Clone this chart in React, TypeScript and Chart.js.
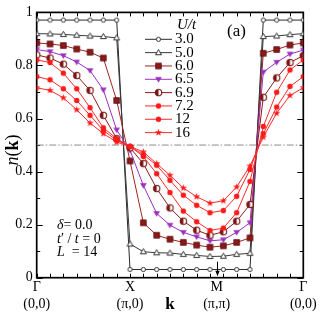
import React, { useEffect, useRef } from 'react';
import { Chart, registerables } from 'chart.js';
Chart.register(...registerables);

// k-path index (Γ=0, X=7, M=13.5, Γ=20)
const kIndex = [0, 1, 2, 3, 4, 5, 6, 7, 8, 9, 10, 11, 12, 13, 14, 15, 16, 17, 18, 19, 20];
const kTickValues = [0, 7, 13.5, 20];
const kTickLabels = [['Γ', '(0,0)'], ['X', '(π,0)'], ['M', '(π,π)'], ['Γ', '(0,0)']];
const yTickMinor = [0, 0.1, 0.2, 0.3, 0.4, 0.5, 0.6, 0.7, 0.8, 0.9, 1];
const yTickMajor = [0, 0.2, 0.4, 0.6, 0.8, 1];

const uLabels = ['3.0', '5.0', '6.0', '6.5', '6.9', '7.2', '12', '16'];

const n30 = [0.971, 0.971, 0.971, 0.971, 0.971, 0.971, 0.971, 0.031, 0.031, 0.031, 0.031, 0.031, 0.031, 0.031, 0.031, 0.031, 0.031, 0.971, 0.971, 0.971, 0.971];
const n50 = [0.92, 0.919, 0.917, 0.914, 0.911, 0.909, 0.904, 0.127, 0.098, 0.094, 0.093, 0.088, 0.084, 0.08, 0.081, 0.088, 0.092, 0.909, 0.911, 0.916, 0.92];
const n60 = [0.885, 0.881, 0.875, 0.862, 0.85, 0.828, 0.668, 0.44, 0.207, 0.16, 0.145, 0.133, 0.123, 0.115, 0.12, 0.133, 0.15, 0.846, 0.86, 0.877, 0.885];
const n65 = [0.86, 0.852, 0.837, 0.813, 0.781, 0.708, 0.557, 0.48, 0.348, 0.242, 0.198, 0.171, 0.154, 0.139, 0.143, 0.171, 0.207, 0.775, 0.812, 0.843, 0.858];
const n69 = [0.84, 0.828, 0.805, 0.762, 0.706, 0.612, 0.524, 0.49, 0.43, 0.336, 0.263, 0.213, 0.179, 0.16, 0.173, 0.213, 0.276, 0.68, 0.753, 0.811, 0.837];
const n72 = [0.821, 0.811, 0.771, 0.712, 0.641, 0.565, 0.524, 0.495, 0.457, 0.392, 0.321, 0.251, 0.211, 0.178, 0.187, 0.245, 0.363, 0.57, 0.699, 0.783, 0.821];
const n12 = [0.758, 0.746, 0.712, 0.668, 0.612, 0.555, 0.518, 0.495, 0.464, 0.424, 0.367, 0.311, 0.273, 0.245, 0.253, 0.307, 0.408, 0.543, 0.643, 0.721, 0.758];
const n16 = [0.716, 0.706, 0.678, 0.633, 0.583, 0.543, 0.511, 0.495, 0.474, 0.43, 0.386, 0.338, 0.305, 0.281, 0.29, 0.342, 0.421, 0.53, 0.62, 0.687, 0.716];
const halfFilling = 0.5;

const seriesValues = [n30, n50, n60, n65, n69, n72, n12, n16];
const lineColors = ['#2a2a2a', '#3a3a3a', '#a02424', '#9b30c0', '#8a1a1a', '#ff2a2a', '#ff2a2a', '#ff2a2a'];
const markerKinds = ['ocircle', 'otri', 'square', 'dtri', 'half', 'dot', 'dot', 'star'];
const markerColors = ['#333333', '#333333', '#8e1a1a', '#9b30c0', '#7a1414', '#ff1a1a', '#ff1a1a', '#ff1a1a'];

const SERIF = "'Liberation Serif', 'Times New Roman', serif";

function makeMarker(kind: string, color: string): HTMLCanvasElement {
  const s = 11;
  const c = document.createElement('canvas');
  c.width = s;
  c.height = s;
  const g = c.getContext('2d') as CanvasRenderingContext2D;
  const m = s / 2;
  g.lineWidth = 1;
  g.strokeStyle = color;
  g.fillStyle = color;
  if (kind === 'ocircle') {
    g.beginPath();
    g.arc(m, m, 2.1, 0, Math.PI * 2);
    g.fillStyle = '#fff';
    g.fill();
    g.stroke();
  } else if (kind === 'otri') {
    g.beginPath();
    g.moveTo(m, m - 3.1);
    g.lineTo(m + 3, m + 2.1);
    g.lineTo(m - 3, m + 2.1);
    g.closePath();
    g.fillStyle = '#fff';
    g.fill();
    g.stroke();
  } else if (kind === 'square') {
    g.fillRect(m - 2.7, m - 2.7, 5.4, 5.4);
    g.strokeStyle = '#5e0c0c';
    g.strokeRect(m - 2.7, m - 2.7, 5.4, 5.4);
  } else if (kind === 'dtri') {
    g.beginPath();
    g.moveTo(m - 3.4, m - 2.3);
    g.lineTo(m + 3.4, m - 2.3);
    g.lineTo(m, m + 3.3);
    g.closePath();
    g.fill();
  } else if (kind === 'half') {
    g.beginPath();
    g.arc(m, m, 3.2, 0, Math.PI * 2);
    g.fillStyle = '#fff';
    g.fill();
    g.beginPath();
    g.arc(m, m, 3.2, Math.PI / 2, Math.PI * 1.5);
    g.closePath();
    g.fillStyle = color;
    g.fill();
    g.beginPath();
    g.arc(m, m, 3.2, 0, Math.PI * 2);
    g.lineWidth = 1.1;
    g.stroke();
  } else if (kind === 'dot') {
    g.beginPath();
    g.arc(m, m, 2.7, 0, Math.PI * 2);
    g.fill();
  } else if (kind === 'star') {
    g.beginPath();
    for (let i = 0; i < 10; i++) {
      const r = i % 2 === 0 ? 3.8 : 1.6;
      const a = -Math.PI / 2 + (i * Math.PI) / 5;
      const px = m + r * Math.cos(a);
      const py = m + r * Math.sin(a);
      if (i === 0) g.moveTo(px, py);
      else g.lineTo(px, py);
    }
    g.closePath();
    g.fill();
  }
  return c;
}

function drawParts(ctx: CanvasRenderingContext2D, parts: [string, string][], x: number, y: number) {
  let cx = x;
  for (const [style, txt] of parts) {
    ctx.font = style;
    ctx.fillText(txt, cx, y);
    cx += ctx.measureText(txt).width;
  }
}

export default function App() {
  const ref = useRef<HTMLCanvasElement | null>(null);
  useEffect(() => {
    const canvas = ref.current;
    if (!canvas) return;
    document.body.style.margin = '0';
    const markers = markerKinds.map((k, i) => makeMarker(k, markerColors[i]));

    const datasets: any[] = seriesValues.map((vals, i) => ({
      label: 'U/t = ' + uLabels[i],
      data: kIndex.map((k, j) => ({ x: k, y: vals[j] })),
      borderColor: lineColors[i],
      backgroundColor: lineColors[i],
      borderWidth: 1,
      pointStyle: markers[i],
      pointRadius: 3,
      showLine: true,
      order: 8 - i,
    }));
    datasets.push({
      label: 'half',
      data: [
        { x: kIndex[0], y: halfFilling },
        { x: kIndex[kIndex.length - 1], y: halfFilling },
      ],
      borderColor: '#8c8c8c',
      borderWidth: 1,
      borderDash: [7, 2, 1.5, 2],
      pointRadius: 0,
      showLine: true,
      order: 20,
    });

    const decor = {
      id: 'decor',
      beforeDatasetsDraw(chart: any) {
        const { ctx, chartArea: a, scales } = chart;
        const x = scales.x;
        const y = scales.y;
        ctx.save();
        ctx.strokeStyle = '#000';
        ctx.lineWidth = 1;
        ctx.beginPath();
        for (const v of kIndex) {
          const px = Math.round(x.getPixelForValue(v)) + 0.5;
          ctx.moveTo(px, a.bottom);
          ctx.lineTo(px, a.bottom - 4);
          ctx.moveTo(px, a.top);
          ctx.lineTo(px, a.top + 4);
        }
        for (const v of yTickMinor) {
          const py = Math.round(y.getPixelForValue(v)) + 0.5;
          const len = yTickMajor.some((mv) => Math.abs(mv - v) < 1e-6) ? 6 : 3.5;
          ctx.moveTo(a.left, py);
          ctx.lineTo(a.left + len, py);
          ctx.moveTo(a.right, py);
          ctx.lineTo(a.right - len, py);
        }
        ctx.stroke();
        ctx.lineWidth = 1.7;
        ctx.strokeRect(a.left, a.top, a.right - a.left, a.bottom - a.top);
        ctx.restore();
      },
      afterDraw(chart: any) {
        const { ctx, scales } = chart;
        const x = scales.x;
        const y = scales.y;
        ctx.save();
        ctx.fillStyle = '#000';
        ctx.textBaseline = 'middle';
        // legend
        ctx.font = `italic 15px ${SERIF}`;
        ctx.fillText('U/t', 177, 25);
        for (let i = 0; i < uLabels.length; i++) {
          const ly = 39.3 + 13.33 * i;
          ctx.strokeStyle = lineColors[i];
          ctx.lineWidth = 1;
          ctx.beginPath();
          ctx.moveTo(145, ly);
          ctx.lineTo(172, ly);
          ctx.stroke();
          ctx.drawImage(markers[i], 158.5 - 5.5, ly - 5.5);
          ctx.fillStyle = '#000';
          ctx.font = `15px ${SERIF}`;
          ctx.fillText(uLabels[i], 175, ly);
        }
        // panel label
        ctx.font = `17px ${SERIF}`;
        ctx.fillText('(a)', 227, 32);
        // parameters
        drawParts(ctx, [[`italic 14px ${SERIF}`, 'δ'], [`14px ${SERIF}`, '= 0.0']], 57, 225);
        drawParts(ctx, [[`italic 14px ${SERIF}`, 't'], [`14px ${SERIF}`, '′ / '], [`italic 14px ${SERIF}`, 't'], [`14px ${SERIF}`, ' = 0']], 57, 239.3);
        drawParts(ctx, [[`italic 14px ${SERIF}`, 'L'], [`14px ${SERIF}`, '  = 14']], 57, 252.7);
        // x title
        ctx.font = `bold 17px ${SERIF}`;
        ctx.textAlign = 'center';
        ctx.fillText('k', 170, 305);
        // y title
        ctx.save();
        ctx.translate(13, 150);
        ctx.rotate(-Math.PI / 2);
        const parts: [string, string][] = [[`italic 18px ${SERIF}`, 'n'], [`18px ${SERIF}`, '('], [`bold 18px ${SERIF}`, 'k'], [`18px ${SERIF}`, ')']];
        let w = 0;
        for (const [f, t] of parts) { ctx.font = f; w += ctx.measureText(t).width; }
        ctx.textAlign = 'left';
        drawParts(ctx, parts, -w / 2, 0);
        ctx.restore();
        // arrow at M
        const mx = Math.round(x.getPixelForValue(kTickValues[2])) + 0.5;
        const yb = y.getPixelForValue(0);
        ctx.strokeStyle = '#000';
        ctx.lineWidth = 1;
        ctx.beginPath();
        ctx.moveTo(mx, yb - 16);
        ctx.lineTo(mx, yb - 4);
        ctx.stroke();
        ctx.beginPath();
        ctx.moveTo(mx - 2.2, yb - 7);
        ctx.lineTo(mx + 2.2, yb - 7);
        ctx.lineTo(mx, yb - 1.5);
        ctx.closePath();
        ctx.fillStyle = '#000';
        ctx.fill();
        ctx.restore();
      },
    };

    const chart = new Chart(canvas, {
      type: 'scatter',
      data: { datasets },
      options: {
        animation: false,
        responsive: false,
        devicePixelRatio: 1,
        events: [],
        layout: { padding: { top: 11.7, right: 18.7, left: 0, bottom: 0 } },
        plugins: { legend: { display: false }, tooltip: { enabled: false }, title: { display: false } },
        scales: {
          x: {
            type: 'linear',
            min: 0,
            max: 20,
            grid: { display: false, drawTicks: false },
            border: { display: false },
            afterFit: (s: any) => { s.height = 40.3; },
            afterBuildTicks: (s: any) => { s.ticks = kTickValues.map((v) => ({ value: v })); },
            ticks: {
              autoSkip: false,
              maxRotation: 0,
              padding: 2,
              color: '#000',
              font: { family: SERIF, size: 14, lineHeight: 1.15 },
              callback: (v: any) => {
                const idx = kTickValues.indexOf(Number(v));
                return idx >= 0 ? kTickLabels[idx] : '';
              },
            },
          },
          y: {
            type: 'linear',
            min: 0,
            max: 1,
            grid: { display: false, drawTicks: false },
            border: { display: false },
            afterFit: (s: any) => { s.width = 36.7; },
            afterBuildTicks: (s: any) => { s.ticks = yTickMajor.map((v) => ({ value: v })); },
            ticks: {
              padding: 4,
              color: '#000',
              font: { family: SERIF, size: 14 },
              callback: (v: any) => {
                const n = Number(v);
                if (Math.abs(n) < 1e-9) return '0';
                if (Math.abs(n - 1) < 1e-9) return '1';
                return n.toFixed(1);
              },
            },
          },
        },
      },
      plugins: [decor],
    } as any);
    return () => chart.destroy();
  }, []);

  return (
    <div style={{ position: 'fixed', left: 0, top: 0, width: 322, height: 318, background: '#fff' }}>
      <canvas ref={ref} width={322} height={318} style={{ display: 'block', width: 322, height: 318 }} />
    </div>
  );
}
